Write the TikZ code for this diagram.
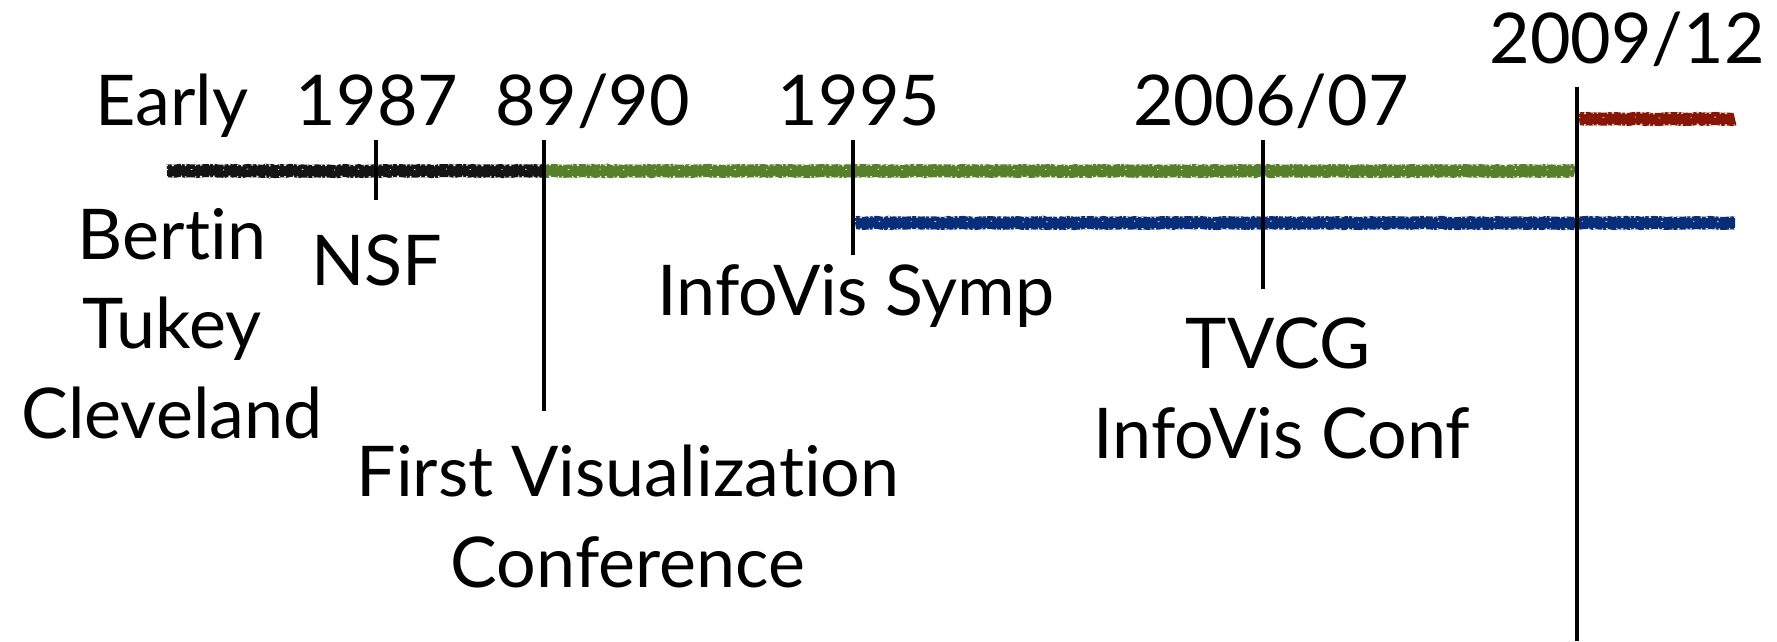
\documentclass[tikz,border=0pt]{standalone}
\usepackage{fontspec}
\setmainfont{Lato}[Ligatures=NoCommon]
\usetikzlibrary{decorations.pathmorphing}
\definecolor{eraBlack}{RGB}{20,20,20}
\definecolor{eraGreen}{RGB}{88,128,42}
\definecolor{eraBlue}{RGB}{8,46,122}
\definecolor{eraRed}{RGB}{135,22,4}
\tikzset{
  lbl/.style={anchor=base, inner sep=0pt, font=\fontsize{70}{90}\selectfont},
  yearlbl/.style={lbl},
  tick/.style={line width=4.2pt, draw=black},
  grain/.style={postaction={draw=white, line width=1.3pt,
      dash pattern=on 1pt off 4pt on 2pt off 7pt on 1pt off 3pt on 1.5pt off 9pt,
      transform canvas={yshift=#1}}},
  crayon/.style={line width=13pt, line cap=butt,
    decorate, decoration={random steps, segment length=3pt, amplitude=0.6pt},
    grain=5.8pt, grain=-5.8pt,
    postaction={draw=white, line width=0.8pt,
      dash pattern=on 1pt off 23pt on 1.5pt off 31pt,
      transform canvas={yshift=1.5pt}}},
}
\begin{document}
\pgfmathsetseed{7}
\begin{tikzpicture}[x=1pt, y=-1pt]
  \useasboundingbox (0,0) rectangle (1777,641);

  % era boundaries on the axis
  \coordinate (start)  at (167,171);
  \coordinate (t87)    at (376,171);
  \coordinate (t89)    at (544,171);
  \coordinate (t95)    at (853,171);
  \coordinate (t06)    at (1263,171);
  \coordinate (t09)    at (1577,171);
  \coordinate (gEnd)   at (1575,171);
  \coordinate (bStart) at (855,223);
  \coordinate (bEnd)   at (1735,223);
  \coordinate (rStart) at (1579,119);
  \coordinate (rEnd)   at (1735,119);

  % tick tops and bottoms
  \coordinate (k87a) at (376,140);  \coordinate (k87b) at (376,200);
  \coordinate (k89a) at (544,140);  \coordinate (k89b) at (544,411);
  \coordinate (k95a) at (853,140);  \coordinate (k95b) at (853,255);
  \coordinate (k06a) at (1263,140); \coordinate (k06b) at (1263,289);
  \coordinate (k09a) at (1577,87);  \coordinate (k09b) at (1577,641);

  % coloured crayon strokes for each era
  \draw[crayon, eraBlack] (start) -- (t89);
  \draw[crayon, eraGreen] (t89) -- (gEnd);
  \draw[crayon, eraBlue]  (bStart) -- (bEnd);
  \draw[crayon, eraRed]   (rStart) -- (rEnd);

  % tick marks
  \draw[tick] (k87a) -- (k87b);
  \draw[tick] (k89a) -- (k89b);
  \draw[tick] (k95a) -- (k95b);
  \draw[tick] (k06a) -- (k06b);
  \draw[tick] (k09a) -- (k09b);

  % dates above the axis
  \node[yearlbl] (early) at (172,125)  {Early};
  \node[yearlbl] (y87)   at (377,125)  {1987};
  \node[yearlbl] (y89)   at (593,125)  {89/90};
  \node[yearlbl] (y95)   at (859,125)  {1995};
  \node[yearlbl] (y06)   at (1271,125) {2006/07};
  \node[yearlbl] (y09)   at (1627,63)  {2009/12};

  % events below the axis
  \node[lbl] (bertin)    at (172,259) {Bertin};
  \node[lbl] (tukey)     at (172,348) {Tukey};
  \node[lbl] (cleveland) at (172,438) {Cleveland};
  \node[lbl] (nsf)       at (377,285) {NSF};
  \node[lbl] (firstvis)  at (628,496) {First Visualization};
  \node[lbl] (conf)      at (628,587) {Conference};
  \node[lbl] (symp)      at (856,315) {InfoVis Symp};
  \node[lbl] (tvcg)      at (1278,368) {TVCG};
  \node[lbl] (ivconf)    at (1282,458) {InfoVis Conf};
\end{tikzpicture}
\end{document}
